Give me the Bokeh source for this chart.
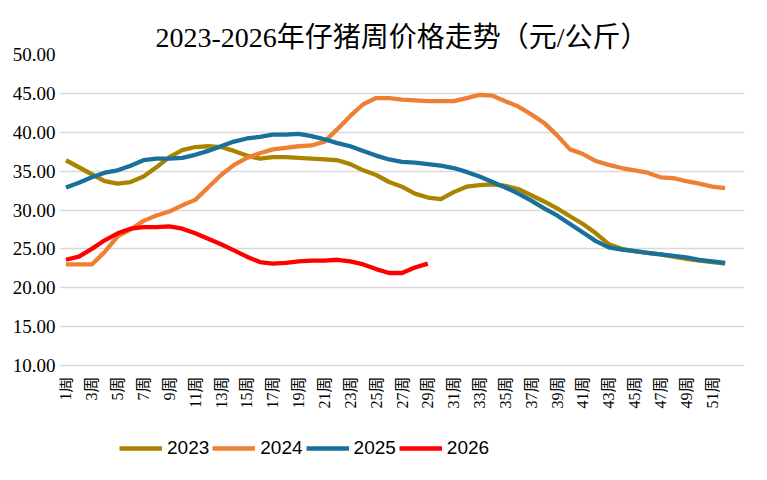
import math
from bokeh.plotting import figure
from bokeh.models import Range1d, FixedTicker, Legend, LegendItem, NumeralTickFormatter
from bokeh.core.properties import value
from bokeh.embed import file_html
from bokeh.resources import INLINE

weeks = list(range(1, 53))
tick_weeks = list(range(1, 52, 2))
tick_labels = [f"{w}周" for w in tick_weeks]
y_ticks = list(range(10, 51, 5))

y2023 = [36.4, 35.5, 34.6, 33.7, 33.4, 33.6, 34.3, 35.5, 36.8, 37.7,
         38.1, 38.2, 38.1, 37.6, 37.0, 36.6, 36.8, 36.8, 36.7, 36.6,
         36.5, 36.4, 35.9, 35.1, 34.5, 33.6, 33.0, 32.1, 31.6, 31.4,
         32.3, 33.0, 33.2, 33.3, 33.1, 32.7, 31.9, 31.1, 30.2, 29.2,
         28.2, 27.0, 25.6, 25.0, 24.7, 24.5, 24.3, 24.0, 23.7, 23.5,
         23.3, 23.1]
y2024 = [23.0, 23.0, 23.0, 24.6, 26.6, 27.5, 28.6, 29.3, 29.8, 30.6,
         31.3, 32.9, 34.5, 35.8, 36.7, 37.3, 37.8, 38.0, 38.2, 38.3,
         38.8, 40.4, 42.1, 43.6, 44.4, 44.4, 44.2, 44.1, 44.0, 44.0,
         44.0, 44.4, 44.8, 44.7, 44.0, 43.3, 42.3, 41.2, 39.6, 37.8,
         37.2, 36.3, 35.8, 35.4, 35.1, 34.8, 34.2, 34.1, 33.7, 33.4,
         33.0, 32.8]
y2025 = [32.9, 33.5, 34.2, 34.8, 35.1, 35.7, 36.4, 36.6, 36.6, 36.7,
         37.1, 37.6, 38.2, 38.8, 39.2, 39.4, 39.7, 39.7, 39.8, 39.5,
         39.1, 38.6, 38.2, 37.6, 37.0, 36.5, 36.2, 36.1, 35.9, 35.7,
         35.4, 34.9, 34.3, 33.6, 32.9, 32.1, 31.2, 30.2, 29.3, 28.2,
         27.1, 26.0, 25.2, 24.9, 24.7, 24.5, 24.3, 24.1, 23.9, 23.6,
         23.4, 23.2]
y2026 = [23.6, 24.0, 25.0, 26.1, 27.0, 27.6, 27.8, 27.8, 27.9, 27.6,
         27.0, 26.3, 25.6, 24.8, 24.0, 23.3, 23.1, 23.2, 23.4, 23.5,
         23.5, 23.6, 23.4, 23.0, 22.4, 21.9, 21.9, 22.6, 23.1]

series = [("2023", y2023, "#AA8400"),
          ("2024", y2024, "#EE8035"),
          ("2025", y2025, "#19709A"),
          ("2026", y2026, "#FF0000")]

# frame spans past the value axis bottom so the week labels and legend sit inside it
y_top = 50
y_bottom_axis = 10
px_per_unit = 311 / 40
frame_h = 416
y_min = y_top - frame_h / px_per_unit

p = figure(width=751, height=472, frame_width=685, frame_height=frame_h,
           output_backend="svg", toolbar_location=None,
           x_range=Range1d(0.5, 53.5), y_range=Range1d(y_min, y_top),
           min_border_left=59, min_border_right=7, min_border_top=54,
           min_border_bottom=2)

p.title.text = "2023-2026年仔猪周价格走势（元/公斤）"
p.title.text_font = "Liberation Serif, Noto Sans CJK SC"
p.title.text_font_size = "28px"
p.title.text_font_style = "normal"
p.title.align = "center"
p.title.offset = -31
p.title.standoff = 3
p.title.text_color = "black"

p.outline_line_color = None
p.xgrid.grid_line_color = None
p.ygrid.grid_line_color = "#d9d9d9"
p.ygrid.grid_line_width = 1.3

p.yaxis.ticker = FixedTicker(ticks=y_ticks)
p.ygrid.ticker = FixedTicker(ticks=y_ticks)
p.yaxis.formatter = NumeralTickFormatter(format="0.00")
p.yaxis.axis_line_color = None
p.yaxis.major_tick_line_color = None
p.yaxis.major_tick_out = 0
p.yaxis.minor_tick_line_color = None
p.yaxis.major_label_text_font = "Liberation Serif"
p.yaxis.major_label_text_font_size = "19px"
p.yaxis.major_label_text_color = "black"
p.yaxis.major_label_standoff = 4

p.xaxis.visible = False

# week labels along the 10.00 baseline
p.text(x=tick_weeks, y=[y_bottom_axis] * len(tick_weeks), text=tick_labels,
       angle=math.pi / 2, text_align="right", text_baseline="middle",
       y_offset=11, text_font=value("Liberation Serif, Noto Sans CJK SC"),
       text_font_size="16px", text_color="black")

items = []
for name, vals, col in series:
    r = p.line(weeks[:len(vals)], vals, line_color=col, line_width=4.3, line_join="round")
    items.append(LegendItem(label=name, renderers=[r]))

legend = Legend(items=items, orientation="horizontal", location=(60, 11),
                glyph_width=43, glyph_height=20, label_standoff=5, spacing=3,
                padding=2, margin=0,
                label_text_font="Liberation Sans", label_text_font_size="19px",
                label_text_color="black",
                border_line_color=None, background_fill_alpha=0)
p.add_layout(legend, "center")

open("out.html", "w").write(file_html(p, INLINE))
